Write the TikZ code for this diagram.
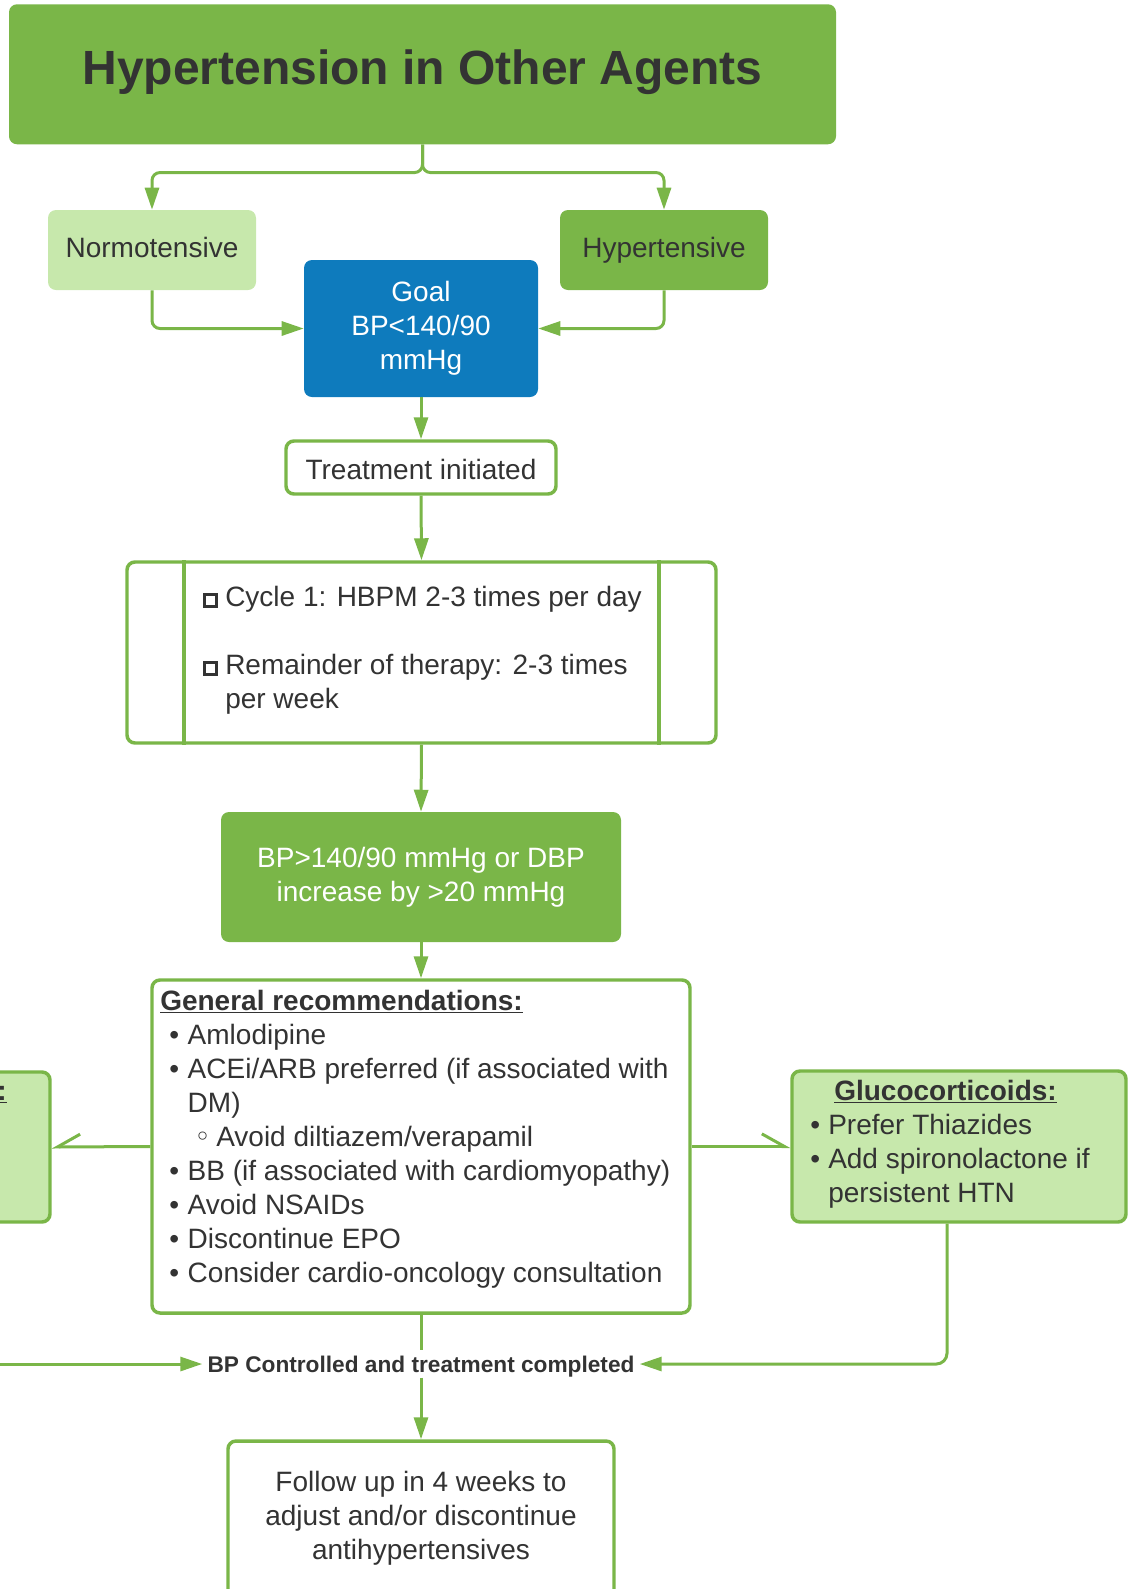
\documentclass[tikz,border=0pt]{standalone}
\usepackage{fontspec}
\setmainfont{Liberation Sans}
\newfontfamily\symfont{DejaVu Sans}
\usetikzlibrary{arrows.meta}

\definecolor{lcgreen}{HTML}{7AB648}
\definecolor{lclight}{HTML}{C7E8AC}
\definecolor{lcblue}{HTML}{0E7BBD}
\definecolor{ink}{HTML}{333333}

\newcommand\bodyfont{\fontsize{21pt}{25.5pt}\selectfont}
\newcommand\chk{\makebox[16.5pt][l]{\raisebox{0.6pt}{\fboxsep=0pt\fboxrule=2pt\fbox{\rule{0pt}{7pt}\hspace{7pt}}}}}
\newcommand\bul{\makebox[13.85pt][l]{•}}
\newcommand\gbul{\makebox[13.5pt][l]{•}}
\newcommand\subbul{\makebox[16.5pt][l]{{\symfont ◦}}}

\tikzset{
  box/.style={rectangle, rounded corners=6pt, inner sep=0pt, text=ink,
    font=\bodyfont, align=center},
  oneline/.style={text height=15.5pt, text depth=4.5pt},
  solidgreen/.style={box, fill=lcgreen},
  palegreen/.style={box, fill=lclight},
  outlined/.style={box, draw=lcgreen, line width=2.6pt, fill=white},
  paleoutlined/.style={box, draw=lcgreen, line width=2.6pt, fill=lclight},
  plaintext/.style={inner sep=0pt, text=ink, font=\bodyfont, align=left},
  conn/.style={draw=lcgreen, line width=2.25pt},
  arr/.style={conn, -{Triangle[length=16.5pt,width=10.5pt]}},
  barbright/.style={conn, -{Straight Barb[harpoon,length=17pt,width=19pt]}},
  barbleft/.style={conn, -{Straight Barb[harpoon,swap,length=17pt,width=19pt]}},
}

\begin{document}
\begin{tikzpicture}[x=0.75pt,y=-0.75pt]
\useasboundingbox (0,0) rectangle (1135,1589);
\clip (0,0) rectangle (1135,1589);

% title banner
\node[solidgreen, anchor=north, minimum width=620.25pt, text height=60pt,
      text depth=45pt, font=\fontsize{36pt}{43pt}\bfseries] (title) at (422.5,4)
  {Hypertension in Other Agents};

% initial classification
\node[palegreen, oneline, minimum width=156pt, minimum height=60pt] (normo) at (152,250) {Normotensive};
\node[solidgreen, oneline, minimum width=156pt, minimum height=60pt] (hyper) at (664,250) {Hypertensive};
\node[box, fill=lcblue, text=white, minimum width=175.5pt, minimum height=102.75pt]
  (goal) at (421,328.5) {Goal\\BP<140/90\\mmHg};

\node[outlined, text height=18pt, text depth=0pt, minimum width=202.5pt, minimum height=39.75pt]
  (treat) at (421,467.5) {Treatment initiated};

% monitoring process box
\node[outlined, minimum width=441.75pt, minimum height=135.75pt] (cycle) at (421.5,652.5) {};
\draw[conn, line width=2.6pt] ([xshift=43.9pt]cycle.north west) -- ([xshift=43.9pt]cycle.south west);
\draw[conn, line width=2.6pt] ([xshift=-44.2pt]cycle.north east) -- ([xshift=-44.2pt]cycle.south east);
\node[plaintext, anchor=base west] (item1) at (203,606) {\chk Cycle 1: HBPM 2-3 times per day};
\node[plaintext, anchor=base west] (item2) at (203,708)
  {\chk Remainder of therapy: 2-3 times\\\hspace*{16.5pt}per week};

\node[solidgreen, text=white, minimum width=300pt, minimum height=97.5pt] (bpbox) at (421,877)
  {BP>140/90 mmHg or DBP\\increase by >20 mmHg};

% recommendations
\node[outlined, minimum width=403.5pt, minimum height=249.75pt] (gen) at (421,1146.5) {};
\node[plaintext, anchor=base west] (gentext) at (160,1282)
  {\underline{\textbf{General recommendations:}}\\
   \hspace*{6.75pt}\bul Amlodipine\\
   \hspace*{6.75pt}\bul ACEi/ARB preferred (if associated with\\
   \hspace*{20.6pt}DM)\\
   \hspace*{25.5pt}\subbul Avoid diltiazem/verapamil\\
   \hspace*{6.75pt}\bul BB (if associated with cardiomyopathy)\\
   \hspace*{6.75pt}\bul Avoid NSAIDs\\
   \hspace*{6.75pt}\bul Discontinue EPO\\
   \hspace*{6.75pt}\bul Consider cardio-oncology consultation};

\node[paleoutlined, minimum width=250.5pt, minimum height=113.25pt] (gluco) at (959,1146.5) {};
\node[plaintext, anchor=base west] (glucotext) at (810,1202)
  {\hspace*{18pt}\underline{\textbf{Glucocorticoids:}}\\
   \gbul Prefer Thiazides\\
   \gbul Add spironolactone if\\
   \hspace*{13.5pt}persistent HTN};

\node[paleoutlined, minimum width=250.5pt, minimum height=112.5pt] (lbox) at (-117,1147) {};
\node[plaintext, anchor=base east] (lboxhead) at (7,1100) {\underline{\textbf{:}}};

% completion
\node[fill=white, text=ink, inner xsep=3.75pt, inner ysep=3.9pt, text height=12.2pt,
      text depth=0pt, font=\fontsize{17pt}{20pt}\bfseries] (done) at (421,1364)
  {BP Controlled and treatment completed};
\coordinate (offleft) at (-20,1364);

\node[outlined, minimum width=289.5pt, minimum height=141.75pt] (follow) at (421,1535.5) {};
\node[plaintext, align=center] (followtext) at (421,1518)
  {Follow up in 4 weeks to\\adjust and/or discontinue\\antihypertensives};

% connectors
\draw[arr, rounded corners=6pt] (title.south) -- ++(0,28) -| (normo.north);
\draw[arr, rounded corners=6pt] (title.south) -- ++(0,28) -| (hyper.north);
\draw[arr, rounded corners=6pt] (normo.south) |- (goal.west);
\draw[arr, rounded corners=6pt] (hyper.south) |- (goal.east);
\draw[arr] (goal.south) -- (treat.north);
\draw[arr] (treat.south) -- (cycle.north);
\draw[arr] (cycle.south) -- (bpbox.north);
\draw[arr] (bpbox.south) -- (gen.north);
\draw[barbleft] (gen.west) -- (lbox.east);
\draw[barbright] (gen.east) -- (gluco.west);
\draw[conn] (gen.south) -- (done.north);
\draw[arr] (done.south) -- (follow.north);
\draw[arr, rounded corners=8pt] ([xshift=-9pt]gluco.south) |- (done.east);
\draw[arr] (offleft) -- (done.west);
\end{tikzpicture}
\end{document}
